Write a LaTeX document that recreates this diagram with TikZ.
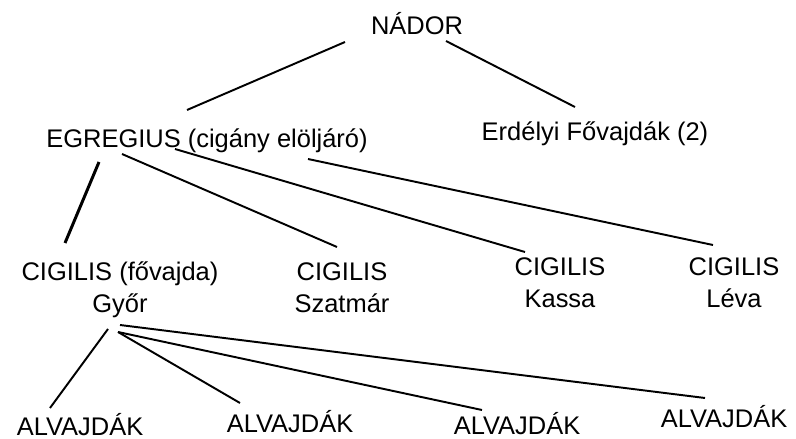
\documentclass[tikz,border=0pt]{standalone}
\usepackage{fontspec}
\setmainfont{Liberation Sans}
\usetikzlibrary{calc}
\tikzset{lbl/.style={anchor=base, inner sep=0pt, align=center, font=\fontsize{14.5}{18.7}\selectfont},
         edge/.style={line width=1.1pt}}

\begin{document}
\begin{tikzpicture}[x=0.02cm, y=-0.02cm]
\useasboundingbox (0,0) rectangle (796,439);
\node[lbl] (nador) at (417,35) {NÁDOR};
\node[lbl] (egregius) at (207,148) {EGREGIUS (cigány elöljáró)};
\node[lbl] (erdely) at (595,141) {Erdélyi Fővajdák (2)};
\node[lbl] (gyor) at (120,313) {CIGILIS (fővajda)\\Győr};
\node[lbl] (szatmar) at (342,313) {CIGILIS\\Szatmár};
\node[lbl] (kassa) at (560,308) {CIGILIS\\Kassa};
\node[lbl] (leva) at (734,308) {CIGILIS\\Léva};
\foreach \n/\x/\y in {1/80/436, 2/290/433, 3/517/435, 4/724/428}
    \node[lbl] (alv\n) at (\x,\y) {ALVAJDÁK};

% nador
\draw[edge] ($(nador.base)+(-72,7)$) -- ($(egregius.base)+(-20,-38)$);
\draw[edge] ($(nador.base)+(29,6)$) -- ($(erdely.base)+(-20,-34)$);
% egregius
\draw[line width=1.7pt] ($(egregius.base)+(-108,14)$) -- ($(gyor.base)+(-55,-70)$);
\draw[edge] ($(egregius.base)+(-85,6)$) -- ($(szatmar.base)+(-5,-66)$);
\draw[edge] ($(egregius.base)+(-32,1)$) -- ($(kassa.base)+(-35,-56)$);
\draw[edge] ($(egregius.base)+(101,11)$) -- ($(leva.base)+(-21,-63)$);
% gyor
\foreach \n/\sx/\sy/\ex/\ey in {1/-12/16/-30/-28, 2/-2/19/-50/-30, 3/-2/19/-35/-25, 4/0/12/-19/-30}
    \draw[edge] ($(gyor.base)+(\sx,\sy)$) -- ($(alv\n.base)+(\ex,\ey)$);
\end{tikzpicture}
\end{document}
